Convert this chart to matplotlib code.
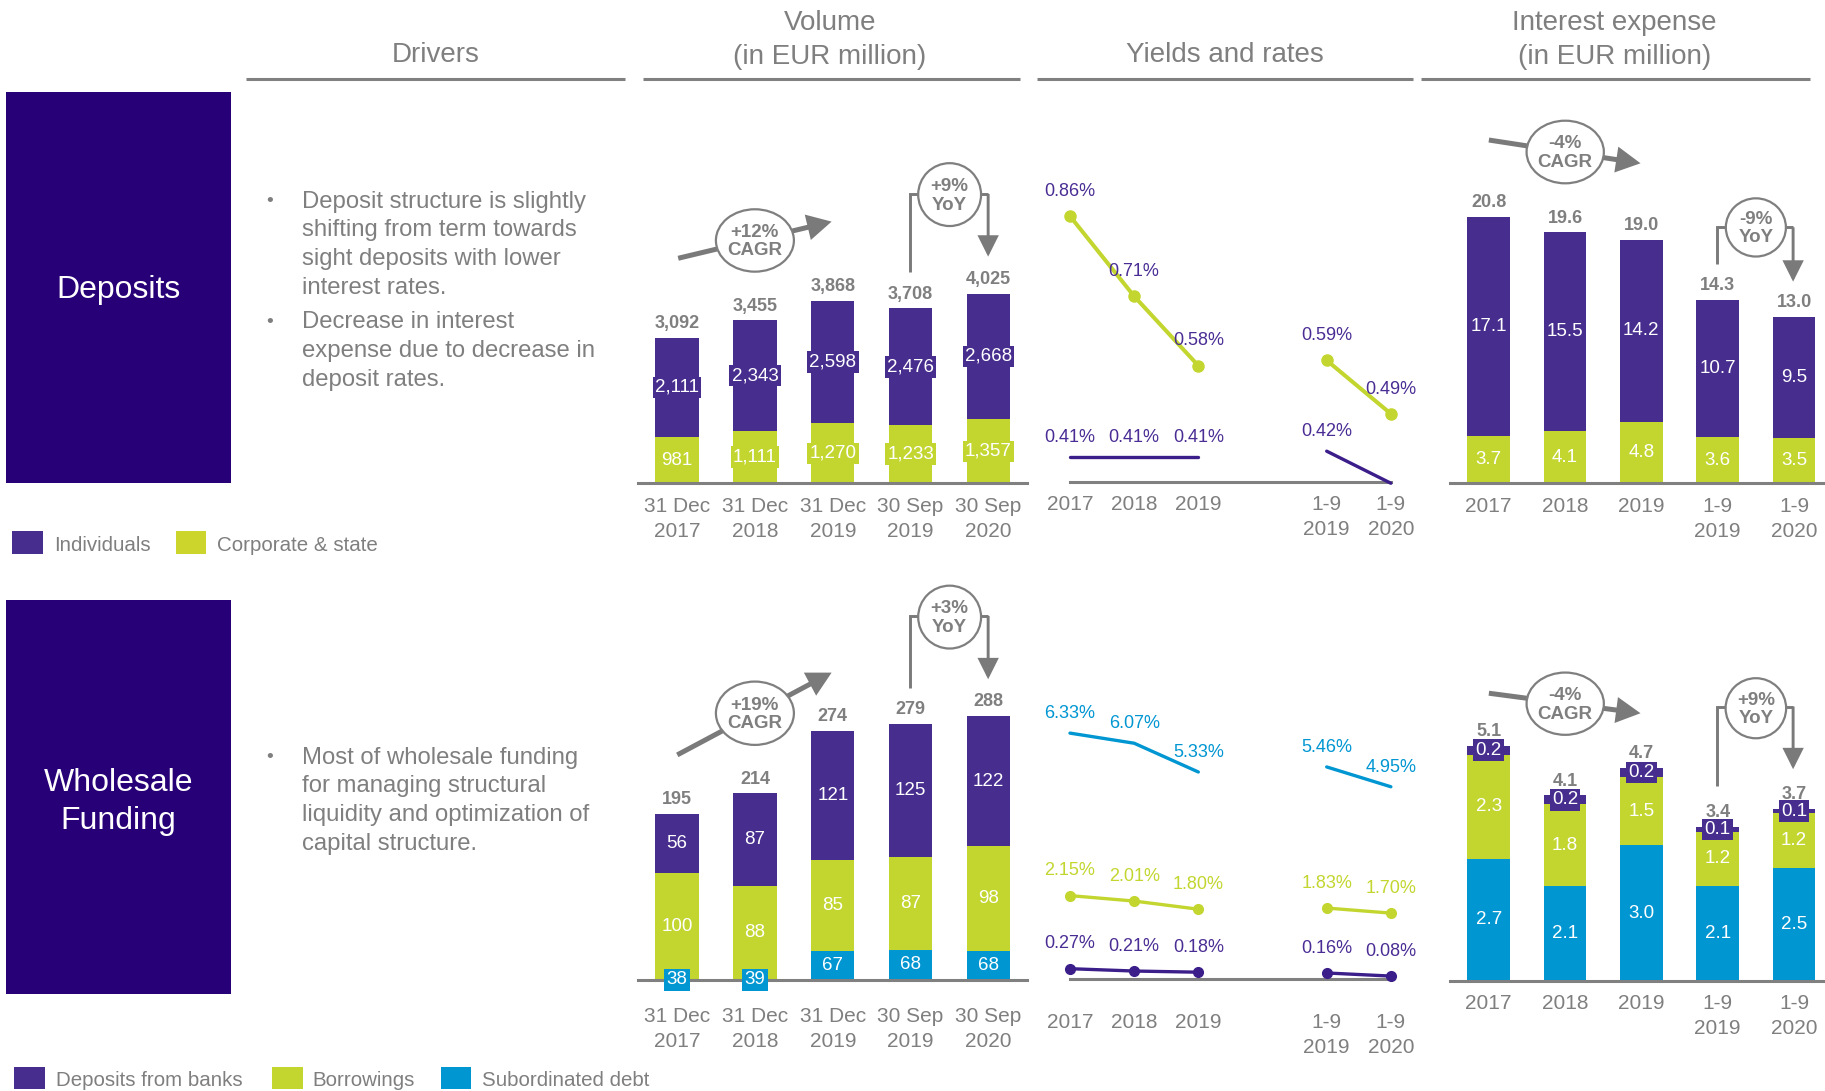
import matplotlib
matplotlib.use('Agg')
import matplotlib.pyplot as plt
from matplotlib.patches import Ellipse, Rectangle
import numpy as np

plt.rcParams['font.family'] = ['Liberation Sans', 'DejaVu Sans']

# ---------------- data ----------------
vol_cats = ['31 Dec\n2017', '31 Dec\n2018', '31 Dec\n2019', '30 Sep\n2019', '30 Sep\n2020']
period_cats = ['2017', '2018', '2019', '1-9\n2019', '1-9\n2020']

# Deposits
vol_dep_corporate = [981, 1111, 1270, 1233, 1357]
vol_dep_individuals = [2111, 2343, 2598, 2476, 2668]
vol_dep_totals = ['3,092', '3,455', '3,868', '3,708', '4,025']

rate_dep_corporate = [0.86, 0.71, 0.58, 0.59, 0.49]
rate_dep_individuals = [0.41, 0.41, 0.41, 0.42, 0.36]

int_dep_corporate = [3.7, 4.1, 4.8, 3.6, 3.5]
int_dep_individuals = [17.1, 15.5, 14.2, 10.7, 9.5]
int_dep_totals = [20.8, 19.6, 19.0, 14.3, 13.0]

# Wholesale funding
vol_wf_subdebt = [38, 39, 67, 68, 68]                # labelled values
vol_wf_subdebt_drawn = [0, 0, 27.5, 28, 27.5]        # segment heights as drawn in the source
vol_wf_borrowings = [100, 88, 85, 87, 98]
vol_wf_banks = [56, 87, 121, 125, 122]
vol_wf_totals = ['195', '214', '274', '279', '288']

rate_wf_subdebt = [6.33, 6.07, 5.33, 5.46, 4.95]
rate_wf_borrowings = [2.15, 2.01, 1.80, 1.83, 1.70]
rate_wf_banks = [0.27, 0.21, 0.18, 0.16, 0.08]

int_wf_subdebt = [2.7, 2.1, 3.0, 2.1, 2.5]
int_wf_borrowings = [2.3, 1.8, 1.5, 1.2, 1.2]
int_wf_banks = [0.2, 0.2, 0.2, 0.1, 0.1]
int_wf_totals = [5.1, 4.1, 4.7, 3.4, 3.7]

# ---------------- style ----------------
PURPLE = '#472D8E'
PURPLE_LINE = '#3B1E8A'
PURPLE_TXT = '#4A2D94'
GREEN = '#C3D62F'
BLUE = '#0096D2'
DARK = '#270078'
GRAY = '#7F7F7F'
ARROW = '#7A7A7A'

W, H = 1825, 1091
S = W / 1568.0
HD = H / S
fig = plt.figure(figsize=(W / 100, H / 100), dpi=100)


def add_ax(x0, y0, x1, y1):
    return fig.add_axes([x0 / 1568, 1 - y1 / HD, (x1 - x0) / 1568, (y1 - y0) / HD])


def style(ax, xs, labels, pad):
    for s in ['top', 'right', 'left']:
        ax.spines[s].set_visible(False)
    ax.spines['bottom'].set_color('#808080')
    ax.spines['bottom'].set_linewidth(2.2)
    ax.set_yticks([])
    ax.set_xticks(xs)
    ax.set_xticklabels(labels, fontsize=15, color=GRAY, linespacing=1.38)
    ax.tick_params(axis='x', length=0, pad=pad)
    ax.patch.set_alpha(0)


def fmt_thousands(v):
    return f'{v:,.0f}'


def stacked(ax, segments, colors, label_vals, fmt, totals, width):
    x = np.arange(len(totals))
    bottom = np.zeros(len(x))
    for vals, col, labs in zip(segments, colors, label_vals):
        vals = np.asarray(vals, float)
        ax.bar(x, vals, width, bottom=bottom, color=col, zorder=2, linewidth=0)
        for xi, b, v, lab in zip(x, bottom, vals, labs):
            ax.text(xi, b + v / 2, fmt(lab), ha='center', va='center', color='white',
                    fontsize=13.5, zorder=4, clip_on=False,
                    bbox=dict(boxstyle='square,pad=0.12', fc=col, ec='none'))
        bottom += vals
    for xi, top, t in zip(x, bottom, totals):
        ax.annotate(t, (xi, top), xytext=(0, 10.3), textcoords='offset points',
                    ha='center', va='center', fontsize=13, fontweight='bold', color=GRAY)
    return x


def line_series(ax, xs, vals, color, marker, label_color, ms=7.5, lw=2.6):
    xs = np.asarray(xs)
    vals = np.asarray(vals)
    for seg in (slice(0, 3), slice(3, 5)):
        ax.plot(xs[seg], vals[seg], color=color, lw=lw, marker='o' if marker else None,
                ms=ms, clip_on=False, solid_capstyle='round', zorder=3)
    off = 17.8 if marker else 14.0
    for xi, v in zip(xs, vals):
        ax.annotate(f'{v:.2f}%', (xi, v), xytext=(0, off), textcoords='offset points',
                    ha='center', va='center', color=label_color, fontsize=13)


idx = np.arange(len(period_cats))
yield_x = idx + (idx >= 3)  # gap between full years and 9-month periods

# ---------------- Deposits: volume ----------------
ax = add_ax(548.4, 100, 882.6, 415.2)
x = stacked(ax, [vol_dep_corporate, vol_dep_individuals], [GREEN, PURPLE],
            [vol_dep_corporate, vol_dep_individuals], fmt_thousands, vol_dep_totals, 0.558)
ax.set_xlim(-0.5, 4.5)
ax.set_ylim(0, 315.2 / 0.0405)
style(ax, x, vol_cats, 10.0)

# ---------------- Deposits: yields ----------------
ax = add_ax(919.3, 100, 1195, 413.8)
line_series(ax, yield_x, rate_dep_corporate, GREEN, True, PURPLE_TXT, ms=8, lw=2.9)
line_series(ax, yield_x, rate_dep_individuals, PURPLE_LINE, False, PURPLE_TXT, lw=2.4)
ax.set_xlim(0, 5)
ax.set_ylim(0.363, 0.363 + 313.8 / 459)
style(ax, yield_x, period_cats, 9.6)

# ---------------- Deposits: interest expense ----------------
ax = add_ax(1246, 100, 1568, 415.2)
x = stacked(ax, [int_dep_corporate, int_dep_individuals], [GREEN, PURPLE],
            [int_dep_corporate, int_dep_individuals], lambda v: f'{v:.1f}',
            [f'{t:.1f}' for t in int_dep_totals], 0.56)
ax.set_xlim(-0.503, 4.405)
ax.set_ylim(0, 315.2 / 11.0)
style(ax, x, period_cats, 10.0)

# ---------------- Wholesale: volume ----------------
ax = add_ax(548.4, 500, 882.6, 841.9)
x = stacked(ax, [vol_wf_subdebt_drawn, vol_wf_borrowings, vol_wf_banks], [BLUE, GREEN, PURPLE],
            [vol_wf_subdebt, vol_wf_borrowings, vol_wf_banks], fmt_thousands, vol_wf_totals, 0.558)
ax.set_xlim(-0.5, 4.5)
ax.set_ylim(0, 341.9 / 0.916)
style(ax, x, vol_cats, 19.6)

# ---------------- Wholesale: yields ----------------
ax = add_ax(919.3, 520, 1195, 841.3)
line_series(ax, yield_x, rate_wf_subdebt, BLUE, False, BLUE, lw=2.4)
line_series(ax, yield_x, rate_wf_borrowings, GREEN, True, GREEN, ms=7, lw=2.4)
line_series(ax, yield_x, rate_wf_banks, PURPLE_LINE, True, PURPLE_TXT, ms=7, lw=2.4)
ax.set_xlim(0, 5)
ax.set_ylim(0, 321.3 / 33.4)
style(ax, yield_x, period_cats, 24.2)

# ---------------- Wholesale: interest expense ----------------
ax = add_ax(1246, 520, 1568, 842.8)
x = stacked(ax, [int_wf_subdebt, int_wf_borrowings, int_wf_banks], [BLUE, GREEN, PURPLE],
            [int_wf_subdebt, int_wf_borrowings, int_wf_banks], lambda v: f'{v:.1f}',
            [f'{t:.1f}' for t in int_wf_totals], 0.56)
ax.set_xlim(-0.503, 4.405)
ax.set_ylim(0, 322.8 / 38.9)
style(ax, x, period_cats, 9.3)

# ---------------- overlay: headers, boxes, text, annotations ----------------
ov = fig.add_axes([0, 0, 1, 1], zorder=10)
ov.set_xlim(0, 1568)
ov.set_ylim(HD, 0)
ov.axis('off')

DY = 2.5  # vertical nudge so visual centres match

# headers
for (x0, x1) in [(211, 537), (552.5, 876), (890.6, 1214.1), (1220.7, 1554.8)]:
    ov.plot([x0, x1], [68.1, 68.1], color='#808080', lw=2.2, solid_capstyle='butt')
ov.text(374, 45 + DY, 'Drivers', ha='center', va='center', fontsize=20, color=GRAY)
ov.text(713, 32 + DY, 'Volume\n(in EUR million)', ha='center', va='center', fontsize=20,
        color=GRAY, linespacing=1.42)
ov.text(1052, 45 + DY, 'Yields and rates', ha='center', va='center', fontsize=20, color=GRAY)
ov.text(1387, 32 + DY, 'Interest expense\n(in EUR million)', ha='center', va='center',
        fontsize=20, color=GRAY, linespacing=1.42)

# category boxes
ov.add_patch(Rectangle((5, 79.2), 193.4, 335.6, fc=DARK, ec='none'))
ov.text(101.7, 247 + DY, 'Deposits', ha='center', va='center', fontsize=23, color='white')
ov.add_patch(Rectangle((5, 515.5), 193.4, 338.5, fc=DARK, ec='none'))
ov.text(101.7, 686.5 + DY, 'Wholesale\nFunding', ha='center', va='center', fontsize=23,
        color='white', linespacing=1.36)

# driver bullets
bullets_dep = [
    ['Deposit structure is slightly', 'shifting from term towards',
     'sight deposits with lower', 'interest rates.'],
    ['Decrease in interest', 'expense due to decrease in', 'deposit rates.'],
]
bullets_wf = [
    ['Most of wholesale funding', 'for managing structural',
     'liquidity and optimization of', 'capital structure.'],
]


def bullets(groups, y_first, step, gap):
    y = y_first
    for lines in groups:
        ov.text(232, y + DY, '•', ha='center', va='center', fontsize=14, color=GRAY)
        for ln in lines:
            ov.text(259.3, y + DY, ln, ha='left', va='center', fontsize=17.2, color=GRAY)
            y += step
        y += gap


bullets(bullets_dep, 170.9, 24.6, 5.2)
bullets(bullets_wf, 648.6, 24.6, 0)


# legends
def legend_item(x0, y0, y1, color, text, tx):
    ov.add_patch(Rectangle((x0, y0), 26, y1 - y0, fc=color, ec='none'))
    ov.text(tx, (y0 + y1) / 2 + DY, text, ha='left', va='center', fontsize=14.8, color=GRAY)


legend_item(10.7, 456.6, 475.6, PURPLE, 'Individuals', 46.3)
legend_item(151.4, 456.6, 475.6, '#CBD52B', 'Corporate & state', 186.3)
legend_item(12.3, 916.4, 935.6, PURPLE, 'Deposits from banks', 47.9)
legend_item(234, 916.4, 935.6, GREEN, 'Borrowings', 268.5)
legend_item(379, 916.4, 935.6, BLUE, 'Subordinated debt', 414)


def bubble(center, w, h, text):
    ov.add_patch(Ellipse(center, w, h, fc='white', ec=GRAY, lw=1.6, zorder=5))
    ov.text(center[0], center[1] + 1, text, ha='center', va='center', fontsize=13.5,
            fontweight='bold', color=GRAY, zorder=6, linespacing=1.12)


def cagr(start, tip, center, w, h, text):
    ov.annotate('', xy=tip, xytext=start,
                arrowprops=dict(arrowstyle='-|>,head_length=0.6,head_width=0.32', lw=3.6,
                                color=ARROW, mutation_scale=20, shrinkA=0, shrinkB=0,
                                joinstyle='miter', capstyle='butt'))
    bubble(center, w, h, text)


def yoy(xl, y_start, y_top, xr, y_tip, center, w, h, text):
    ov.plot([xl, xl, xr], [y_start, y_top, y_top], color=ARROW, lw=2.1,
            solid_joinstyle='miter', solid_capstyle='butt')
    ov.annotate('', xy=(xr, y_tip), xytext=(xr, y_top),
                arrowprops=dict(arrowstyle='-|>,head_length=0.6,head_width=0.3', lw=2.1,
                                color=ARROW, mutation_scale=20, shrinkA=0, shrinkB=0,
                                joinstyle='miter', capstyle='butt'))
    bubble(center, w, h, text)


cagr((582.7, 221.9), (714.5, 190.4), (648.6, 206.6), 67, 53.6, '+12%\nCAGR')
yoy(781.8, 233.4, 166.7, 849, 220.5, (815.9, 167.2), 54, 54, '+9%\nYoY')
cagr((581.9, 648.6), (714.5, 577.9), (648.6, 612.8), 67, 54.4, '+19%\nCAGR')
yoy(781.8, 591.3, 529.2, 849, 583.6, (815.9, 530.2), 54, 54, '+3%\nYoY')
cagr((1279.2, 120.3), (1409.5, 140.3), (1344.8, 130.6), 66.4, 53.8, '-4%\nCAGR')
yoy(1475.6, 227.1, 195.3, 1540.6, 242, (1508.6, 195.4), 51.6, 50, '-9%\nYoY')
cagr((1279.2, 595.6), (1409.5, 612.8), (1344.8, 604.6), 66.4, 53.5, '-4%\nCAGR')
yoy(1475.6, 675.2, 607.1, 1540.6, 660.9, (1508.6, 608.5), 52, 51.6, '+9%\nYoY')

fig.savefig('out.png', dpi=100)
